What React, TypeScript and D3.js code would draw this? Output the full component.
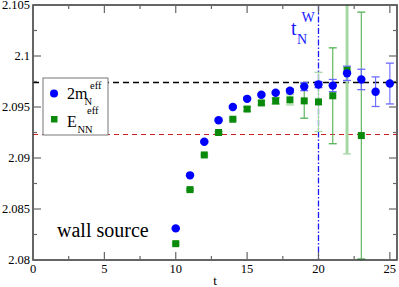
import React, { useEffect, useRef } from 'react';
import * as d3 from 'd3';

// effective masses
const tBlue = [10, 11, 12, 13, 14, 15, 16, 17, 18, 19, 20, 21, 22, 23, 24, 25];
const mN2 = [2.0831, 2.0883, 2.0916, 2.0937, 2.095, 2.0958, 2.0962, 2.0964, 2.0966, 2.097, 2.0972, 2.0971, 2.0983, 2.0977, 2.0965, 2.0973];
const mN2Err = [0.0001, 0.0001, 0.0001, 0.0001, 0.0001, 0.0001, 0.0001, 0.0001, 0.0002, 0.0004, 0.0003, 0.0006, 0.0007, 0.001, 0.00145, 0.002];

const tGreen = [10, 11, 12, 13, 14, 15, 16, 17, 18, 19, 20, 21, 22, 23];
const eNN = [2.0816, 2.0869, 2.0903, 2.0925, 2.0938, 2.0948, 2.0954, 2.0956, 2.0957, 2.0956, 2.0955, 2.0961, 2.0986, 2.0922];
const eNNErr = [0.0001, 0.0001, 0.0001, 0.0001, 0.0001, 0.0002, 0.0002, 0.0003, 0.0005, 0.0017, 0.0029, 0.0047, 0.0082, 0.0121];

const fitBlack = 2.0974;
const fitRed = 2.0923;
const tWall = 20;

const xTicks = [0, 5, 10, 15, 20, 25];
const yTicks = [2.08, 2.085, 2.09, 2.095, 2.1, 2.105];

const App = () => {
  const ref = useRef<SVGSVGElement>(null);

  useEffect(() => {
    const width = 399;
    const height = 287;
    const margin = { top: 5, right: 2, bottom: 27, left: 33 };
    const svg = d3.select(ref.current);
    svg.selectAll('*').remove();

    const x = d3.scaleLinear().domain([0, 25.5]).range([margin.left, width - margin.right]);
    const y = d3.scaleLinear().domain([2.08, 2.105]).range([height - margin.bottom, margin.top]);
    const font = '"Liberation Serif", "Times New Roman", serif';

    svg.append('defs').append('clipPath').attr('id', 'clip')
      .append('rect')
      .attr('x', margin.left).attr('y', margin.top)
      .attr('width', x.range()[1] - margin.left)
      .attr('height', y.range()[0] - margin.top);

    const plot = svg.append('g').attr('clip-path', 'url(#clip)');

    // fit lines
    plot.append('line')
      .attr('x1', x.range()[0]).attr('x2', x.range()[1])
      .attr('y1', y(fitBlack)).attr('y2', y(fitBlack))
      .attr('stroke', '#000').attr('stroke-width', 1.3).attr('stroke-dasharray', '6,4');
    plot.append('line')
      .attr('x1', x.range()[0]).attr('x2', x.range()[1])
      .attr('y1', y(fitRed)).attr('y2', y(fitRed))
      .attr('stroke', '#cc2222').attr('stroke-width', 1.1).attr('stroke-dasharray', '5,4');
    plot.append('line')
      .attr('x1', x(tWall)).attr('x2', x(tWall))
      .attr('y1', y.range()[1]).attr('y2', y.range()[0])
      .attr('stroke', '#1a1aff').attr('stroke-width', 1.3).attr('stroke-dasharray', '6,2,1.5,2');

    // error bars
    const drawErr = (ts: number[], vs: number[], es: number[], color: (t: number) => string, sw: (t: number) => number) => {
      ts.forEach((t, i) => {
        const g = plot.append('g').attr('stroke', color(t)).attr('stroke-width', sw(t));
        g.append('line').attr('x1', x(t)).attr('x2', x(t)).attr('y1', y(vs[i] - es[i])).attr('y2', y(vs[i] + es[i]));
        [vs[i] - es[i], vs[i] + es[i]].forEach(v => {
          g.append('line').attr('x1', x(t) - 4).attr('x2', x(t) + 4).attr('y1', y(v)).attr('y2', y(v)).attr('stroke-width', 1.3);
        });
      });
    };
    drawErr(tGreen, eNN, eNNErr, t => (t % 2 === 0 ? '#a6d8a6' : '#55b055'), t => (t === 22 ? 3 : 1.1));
    drawErr(tBlue, mN2, mN2Err, () => '#6a6aff', () => 1.1);

    // markers
    plot.selectAll('rect.pt').data(tGreen).enter().append('rect')
      .attr('x', t => x(t) - 3.5).attr('y', (t, i) => y(eNN[i]) - 3.5)
      .attr('width', 7).attr('height', 7).attr('fill', '#0a8a0a');
    plot.selectAll('circle.pt').data(tBlue).enter().append('circle')
      .attr('cx', t => x(t)).attr('cy', (t, i) => y(mN2[i]))
      .attr('r', 4.2).attr('fill', '#0000ff');

    // frame + ticks
    const axisColor = '#333';
    const [x0, x1] = x.range();
    const [y0, y1] = y.range();
    svg.append('rect').attr('x', x0).attr('y', y1).attr('width', x1 - x0).attr('height', y0 - y1)
      .attr('fill', 'none').attr('stroke', axisColor).attr('stroke-width', 1.5);

    const xMinor = d3.range(0, 25.01, 2.5);
    const yMinor = d3.range(2.08, 2.1051, 0.0025);
    const ticks = svg.append('g').attr('stroke', '#666').attr('stroke-width', 1.2);
    xMinor.forEach(t => {
      const len = xTicks.some(v => Math.abs(v - t) < 1e-6) ? 8 : 4;
      ticks.append('line').attr('x1', x(t)).attr('x2', x(t)).attr('y1', y0).attr('y2', y0 - len);
      ticks.append('line').attr('x1', x(t)).attr('x2', x(t)).attr('y1', y1).attr('y2', y1 + len);
    });
    yMinor.forEach(v => {
      const len = yTicks.some(w => Math.abs(w - v) < 1e-6) ? 8 : 4;
      ticks.append('line').attr('x1', x0).attr('x2', x0 + len).attr('y1', y(v)).attr('y2', y(v));
      ticks.append('line').attr('x1', x1).attr('x2', x1 - len).attr('y1', y(v)).attr('y2', y(v));
    });

    svg.append('g').selectAll('text').data(xTicks).enter().append('text')
      .attr('x', d => x(d)).attr('y', y0 + 13)
      .attr('text-anchor', 'middle').style('font-family', font).style('font-size', '12.5px')
      .text(d => String(d));
    svg.append('g').selectAll('text').data(yTicks).enter().append('text')
      .attr('x', x0 - 3).attr('y', d => y(d) + 4)
      .attr('text-anchor', 'end').style('font-family', font).style('font-size', '12.5px')
      .text(d => d3.format('')(d));

    svg.append('text').attr('x', (x0 + x1) / 2).attr('y', 285)
      .attr('text-anchor', 'middle').style('font-family', font).style('font-size', '13px').text('t');

    // t_N^W label
    const lab = svg.append('g').attr('fill', '#1a1aff').style('font-family', font);
    lab.append('text').attr('x', 291).attr('y', 35).style('font-size', '20px').text('t');
    lab.append('text').attr('x', 297).attr('y', 44).style('font-size', '14px').text('N');
    lab.append('text').attr('x', 301.5).attr('y', 22).style('font-size', '14px').text('W');

    svg.append('text').attr('x', 57).attr('y', 237).style('font-family', font).style('font-size', '20px').text('wall source');

    // legend
    const leg = svg.append('g').style('font-family', font);
    leg.append('rect').attr('x', 43).attr('y', 78).attr('width', 65).attr('height', 57)
      .attr('fill', '#fff').attr('stroke', '#777').attr('stroke-width', 1);
    leg.append('circle').attr('cx', 54).attr('cy', 93.5).attr('r', 4).attr('fill', '#0000ff');
    leg.append('rect').attr('x', 51).attr('y', 116).attr('width', 6.5).attr('height', 6.5).attr('fill', '#0a8a0a');
    leg.append('text').attr('x', 67).attr('y', 99).style('font-size', '16px').text('2m');
    leg.append('text').attr('x', 84.5).attr('y', 105).style('font-size', '10.5px').text('N');
    leg.append('text').attr('x', 90).attr('y', 89).style('font-size', '10.5px').text('eff');
    leg.append('text').attr('x', 67).attr('y', 127).style('font-size', '16px').text('E');
    leg.append('text').attr('x', 77.5).attr('y', 133).style('font-size', '10.5px').text('NN');
    leg.append('text').attr('x', 87).attr('y', 114).style('font-size', '10.5px').text('eff');
  }, []);

  return (
    <svg ref={ref} width={399} height={287} style={{ position: 'absolute', left: 0, top: 0, background: '#fff' }} />
  );
};

export default App;
